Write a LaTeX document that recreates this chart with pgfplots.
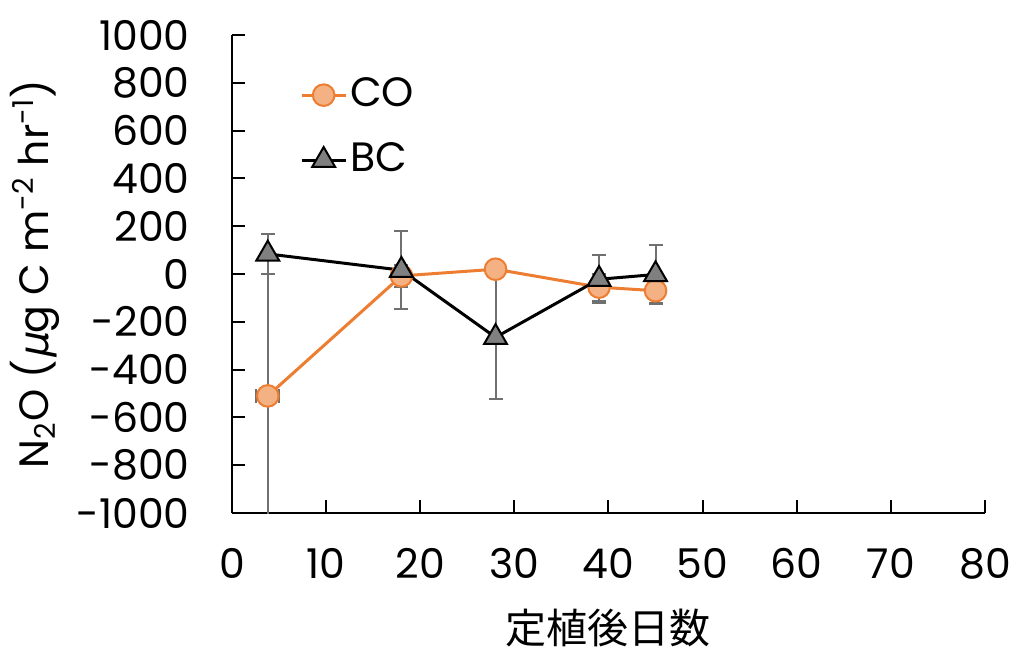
\documentclass[border=0pt]{standalone}
\usepackage{fontspec}
\setmainfont{Poppins}
\newfontfamily\jpfont{Noto Sans CJK JP}
\newfontfamily\mufont{DejaVu Sans}[FakeSlant=0.2]
\usepackage{pgfplots}
\pgfplotsset{compat=1.18}

\definecolor{coline}{HTML}{ED7D31}
\definecolor{cofill}{HTML}{F4B183}
\definecolor{bcfill}{HTML}{808080}
\definecolor{errgray}{HTML}{707070}

% day, mean, x error, y error
\pgfplotstableread{
x     y     ex   ey
3.8  -510   1.2  510
18   -8     0    45
28    20    0    20
39   -55    0    57
45   -70    0    50
}\codata
\pgfplotstableread{
x     y     ex   ey
3.8   84    0    85
18    16    0    162
28   -265   0    260
39   -22    0    100
45   -2     0    124
}\bcdata

\begin{document}
\fontsize{20.5}{24}\selectfont
\begin{tikzpicture}
\path[use as bounding box] (-116pt,-67.5pt) rectangle (392pt,256.5pt);
\begin{axis}[
  at={(0,0)}, anchor=south west,
  scale only axis, width=376.5pt, height=239pt,
  xmin=0, xmax=80, ymin=-1000, ymax=1000,
  xtick={0,10,...,80}, ytick={-1000,-800,...,1000},
  axis x line=bottom, axis y line=left,
  axis line style={-, line width=1pt, black},
  tick align=inside, major tick length=6.5pt,
  tick style={line width=1pt, black},
  /pgf/number format/assume math mode=true,
  /pgf/number format/1000 sep={},
  font=\fontsize{20.5}{24}\selectfont,
  xticklabel style={anchor=north, inner sep=0pt, yshift=-17.5pt},
  yticklabel style={anchor=east, inner sep=0pt, xshift=-21pt},
  xlabel={\jpfont 定植後日数},
  xlabel style={at={(axis description cs:0.5,-0.2406)}, anchor=center},
  ylabel={N\textsubscript{2}O ({\mufont μ}g C m\textsuperscript{-2} hr\textsuperscript{-1})},
  ylabel style={at={(axis description cs:-0.2616,0.5)}, anchor=center},
  legend style={at={(rel axis cs:0.09,0.918)}, anchor=north west,
    draw=none, fill=none, inner sep=0pt, row sep=12pt,
    font=\fontsize{20.5}{24}\selectfont,
    nodes={inner sep=1.5pt, anchor=west}},
  legend cell align=left,
  legend image code/.code={
    \draw[#1, mark repeat=2, mark phase=2]
      plot coordinates {(0pt,0pt) (11pt,0pt) (22pt,0pt)};
  },
]
% error bars first, so that lines and markers sit above them
\addplot[forget plot, draw=none, mark=none,
  error bars/.cd, y dir=both, y explicit, x dir=both, x explicit,
  error bar style={draw=errgray, line width=1pt},
  error mark options={draw=errgray, line width=1pt, mark size=3.5pt, rotate=90}]
  table[x=x, y=y, x error=ex, y error=ey] {\codata};
\addplot[forget plot, draw=none, mark=none,
  error bars/.cd, y dir=both, y explicit,
  error bar style={draw=errgray, line width=1pt},
  error mark options={draw=errgray, line width=1pt, mark size=3.5pt, rotate=90}]
  table[x=x, y=y, y error=ey] {\bcdata};

\addplot[coline, line width=1.5pt, mark=*, mark size=5.4pt,
  mark options={fill=cofill, draw=coline, line width=1pt}]
  table[x=x, y=y] {\codata};
\addlegendentry{CO}
\addplot[black, line width=1.5pt, mark=triangle*, mark size=6.6pt,
  mark options={fill=bcfill, draw=black, line width=1pt}]
  table[x=x, y=y] {\bcdata};
\addlegendentry{BC}
\end{axis}
\end{tikzpicture}
\end{document}
